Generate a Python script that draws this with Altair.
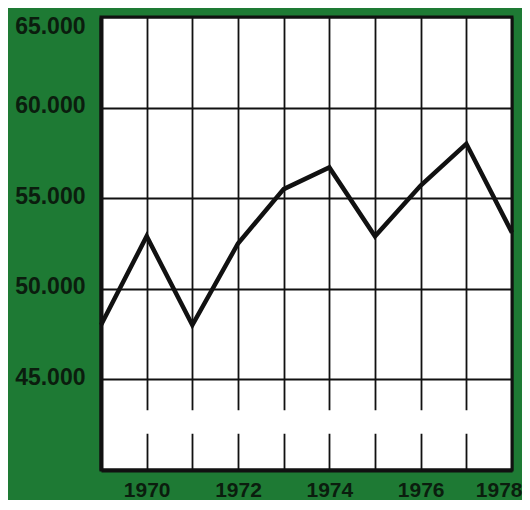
import altair as alt
import pandas as pd

# ---- data ----
years = [1969, 1970, 1971, 1972, 1973, 1974, 1975, 1976, 1977, 1978]
values = [48000, 52900, 48000, 52500, 55500, 56700, 52900, 55700, 58000, 53100]
y_ticks = [45000, 50000, 55000, 60000, 65000]
x_grid = [1970, 1971, 1972, 1973, 1974, 1975, 1976, 1977, 1978]
x_labels = [1970, 1972, 1974, 1976, 1978]

GREEN = "#1e7a34"
INK = "#0b1d0e"
FONT = "Liberation Sans"

df = pd.DataFrame({"year": years, "value": values})

x_scale = alt.Scale(domain=[1969, 1978], nice=False, zero=False)
y_scale = alt.Scale(domain=[40000, 65000], nice=False, zero=False)

label_list = ",".join(str(v) for v in x_labels)
x_axis = alt.Axis(
    values=x_grid,
    labelExpr=f"indexof([{label_list}], datum.value) >= 0 ? format(datum.value, 'd') : ''",
    title=None,
    grid=True,
    gridColor="#111111",
    gridWidth=1.8,
    gridOpacity=1,
    ticks=False,
    tickSize=0,
    domainColor="#111111",
    domainWidth=4,
    labelFont=FONT,
    labelFontSize=21,
    labelFontWeight="bold",
    labelColor=INK,
    labelPadding=9,
    labelFlush=True,
    labelFlushOffset=10,
)
y_axis = alt.Axis(
    values=y_ticks,
    labelExpr="replace(format(datum.value, ','), ',', '.')",
    title=None,
    grid=True,
    gridColor="#111111",
    gridWidth=1.8,
    gridOpacity=1,
    ticks=False,
    tickSize=0,
    domainColor="#111111",
    domainWidth=4,
    labelFont=FONT,
    labelFontSize=23,
    labelFontWeight="bold",
    labelColor=INK,
    labelPadding=16,
    labelOffset=-2,
    labelFlush=True,
)

# white break across the vertical grid lines near the bottom
gap = pd.DataFrame({"x": [1969.5], "x2": [1977.5], "y": [42000], "y2": [43300]})
gap_layer = alt.Chart(gap).mark_rect(color="white").encode(
    x=alt.X("x:Q", scale=x_scale, axis=x_axis),
    x2="x2:Q",
    y=alt.Y("y:Q", scale=y_scale, axis=y_axis),
    y2="y2:Q",
)

line = alt.Chart(df).mark_line(color="#111111", strokeWidth=4.5, strokeJoin="miter").encode(
    x=alt.X("year:Q", scale=x_scale, axis=x_axis),
    y=alt.Y("value:Q", scale=y_scale, axis=y_axis),
)

chart = (
    alt.layer(gap_layer, line)
    .properties(
        width=411,
        height=453,
        autosize=alt.AutoSizeParams(type="none"),
        padding={"left": 93, "top": 9, "right": 10, "bottom": 30},
        background=GREEN,
    )
    .configure_view(fill="white", stroke="#111111", strokeWidth=3)
)

chart.save("out.html", embed_options={"renderer": "svg", "actions": False})
